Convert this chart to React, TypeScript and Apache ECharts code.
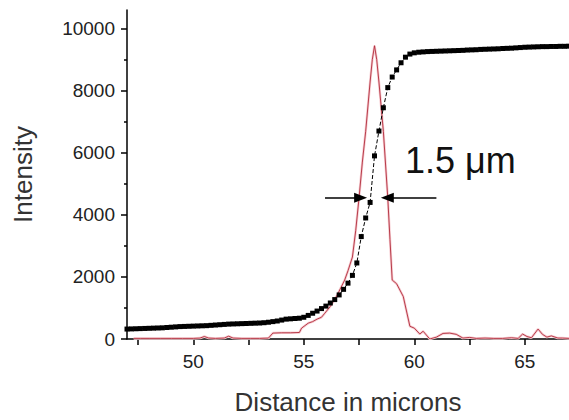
import React, { useEffect, useRef } from "react";
import * as echarts from "echarts";

// Black step-profile series (distance in microns, intensity)
const blackX = [
  47.0, 47.2, 47.4, 47.6, 47.8, 48.0, 48.2, 48.4, 48.6, 48.8, 49.0, 49.2, 49.4, 49.6, 49.8,
  50.0, 50.2, 50.4, 50.6, 50.8, 51.0, 51.2, 51.4, 51.6, 51.8, 52.0, 52.2, 52.4, 52.6, 52.8,
  53.0, 53.2, 53.4, 53.6, 53.8, 54.0, 54.2, 54.4, 54.6, 54.8, 55.0, 55.2, 55.4, 55.6, 55.8,
  56.0, 56.2, 56.4, 56.6, 56.8, 57.0, 57.2, 57.4, 57.6, 57.8, 58.0, 58.2, 58.4, 58.6, 58.8,
  59.0, 59.2, 59.4, 59.6, 59.8, 60.0, 60.2, 60.4, 60.6, 60.8, 61.0, 61.2, 61.4, 61.6, 61.8,
  62.0, 62.2, 62.4, 62.6, 62.8, 63.0, 63.2, 63.4, 63.6, 63.8, 64.0, 64.2, 64.4, 64.6, 64.8,
  65.0, 65.2, 65.4, 65.6, 65.8, 66.0, 66.2, 66.4, 66.6, 66.8, 67.0,
];
const blackY = [
  320, 325, 330, 335, 340, 345, 350, 355, 360, 370, 380, 390, 400, 405, 410,
  415, 420, 425, 430, 440, 450, 460, 470, 480, 485, 490, 495, 500, 505, 510,
  515, 525, 540, 560, 580, 610, 640, 650, 660, 670, 700, 760, 830, 900, 980,
  1060, 1160, 1270, 1420, 1600, 1800, 2050, 2450, 3300, 3900, 4400, 5900, 6700, 7450, 8100,
  8440, 8670, 8900, 9080, 9180, 9220, 9240, 9250, 9260, 9265, 9270, 9275, 9280, 9285, 9290,
  9295, 9300, 9310, 9315, 9320, 9330, 9335, 9340, 9345, 9350, 9360, 9365, 9370, 9380, 9390,
  9400, 9405, 9410, 9415, 9420, 9420, 9425, 9425, 9430, 9430, 9435,
];

// Red peak series
const redX = [
  47.3, 47.6, 48.0, 48.5, 49.0, 49.5, 50.0, 50.3, 50.5, 50.7, 51.0, 51.4, 51.6, 51.8, 52.2,
  52.6, 53.0, 53.4, 53.6, 54.0, 54.4, 54.8, 54.9, 55.2, 55.4, 55.6, 55.8, 55.95, 56.2, 56.5,
  56.85, 57.0, 57.2, 57.35, 57.5, 57.65, 57.8, 58.0, 58.1, 58.2, 58.3, 58.4, 58.6, 58.8, 58.9,
  59.0, 59.2, 59.5, 59.8, 60.0, 60.25, 60.4, 60.7, 61.0, 61.3, 61.6, 61.9, 62.2, 62.5, 62.8,
  63.2, 63.6, 64.0, 64.4, 64.7, 64.9, 65.1, 65.3, 65.6, 65.8, 66.0, 66.2, 66.5, 66.7, 67.0,
];
const redY = [
  20, 20, 20, 20, 20, 20, 20, 30, 80, 30, 20, 30, 90, 30, 20,
  20, 20, 30, 190, 200, 200, 210, 350, 510, 560, 640, 700, 830, 1050, 1400,
  1900, 2200, 2640, 3500, 4550, 5700, 6690, 8280, 9000, 9450, 9000, 8280, 6690, 4550, 3200,
  1900, 1780, 1370, 410, 350, 160, 250, 0, 60, 180, 190, 150, 30, 50, 20,
  30, 20, 20, 40, 20, 160, 80, 40, 320, 150, 60, 100, 30, 30, 20,
];

// Axis ticks
const yMajorTicks = [0, 2000, 4000, 6000, 8000, 10000];
const yMinorTicks = [1000, 3000, 5000, 7000, 9000];
const xTicks = [47.5, 50, 52.5, 55, 57.5, 60, 62.5, 65];
const xLabels = [50, 55, 60, 65];

// FWHM annotation (data coordinates)
const fwhmLevel = 4550;
const leftArrow = [55.96, 57.57];
const rightArrow = [61.0, 58.78];
const fwhmText = "1.5 \u03bcm";

const FONT = "'Liberation Sans', Arial, sans-serif";

export default function App() {
  const ref = useRef<HTMLDivElement>(null);
  useEffect(() => {
    document.body.style.margin = "0";
    if (!ref.current) return;
    const chart = echarts.init(ref.current, undefined, { renderer: "svg" });
    const black = blackX.map((x, i) => [x, blackY[i]]);
    const red = redX.map((x, i) => [x, redY[i]]);
    chart.setOption({
      animation: false,
      backgroundColor: "#ffffff",
      grid: { left: 127, right: -5, top: 10, bottom: 77, containLabel: false },
      xAxis: {
        type: "value",
        min: 47,
        max: 67,
        axisLine: { show: true, onZero: false, lineStyle: { color: "#000", width: 1.5 } },
        axisTick: { show: true, length: 6, customValues: xTicks, lineStyle: { color: "#000", width: 1.5 } },
        axisLabel: {
          customValues: xLabels,
          margin: 13,
          fontSize: 19,
          color: "#222",
          fontFamily: FONT,
          formatter: (v: number) => String(v),
        },
        splitLine: { show: false },
        name: "Distance in microns",
        nameLocation: "middle",
        nameGap: 50,
        nameTextStyle: { fontSize: 26, color: "#333", fontFamily: FONT },
      },
      yAxis: [
        {
          type: "value",
          position: "left",
          min: 0,
          max: 10600,
          axisLine: { show: true, lineStyle: { color: "#000", width: 1.5 } },
          axisTick: { show: true, length: 6, customValues: yMajorTicks, lineStyle: { color: "#000", width: 1.5 } },
          axisLabel: {
            customValues: yMajorTicks,
            margin: 12,
            fontSize: 19,
            color: "#222",
            fontFamily: FONT,
            formatter: (v: number) => String(v),
          },
          splitLine: { show: false },
          name: "Intensity",
          nameLocation: "middle",
          nameGap: 91,
          nameTextStyle: { fontSize: 26, color: "#333", fontFamily: FONT },
        },
        {
          type: "value",
          position: "left",
          min: 0,
          max: 10600,
          axisLine: { show: false },
          axisTick: { show: true, length: 3, customValues: yMinorTicks, lineStyle: { color: "#000", width: 1.5 } },
          axisLabel: { show: false },
          splitLine: { show: false },
        },
      ],
      series: [
        {
          type: "line",
          data: red,
          symbol: "none",
          lineStyle: { color: "#f7cdd2", width: 2.5 },
          silent: true,
          z: 2,
        },
        {
          type: "line",
          data: red,
          symbol: "none",
          lineStyle: { color: "#b02a3a", width: 0.9 },
          silent: true,
          z: 3,
        },
        {
          type: "line",
          data: black,
          symbol: "rect",
          symbolSize: 5,
          itemStyle: { color: "#000" },
          lineStyle: { color: "#000", width: 1, type: "dashed" },
          silent: true,
          z: 4,
          markLine: {
            silent: true,
            symbol: ["none", "triangle"],
            symbolSize: [10, 13],
            label: { show: false },
            lineStyle: { color: "#000", width: 1.5, type: "solid" },
            data: [
              [{ coord: [leftArrow[0], fwhmLevel] }, { coord: [leftArrow[1], fwhmLevel] }],
              [{ coord: [rightArrow[0], fwhmLevel] }, { coord: [rightArrow[1], fwhmLevel] }],
            ],
          },
        },
      ],
      graphic: [
        {
          type: "text",
          x: 405,
          y: 160,
          style: {
            text: fwhmText,
            fontSize: 36,
            fontFamily: FONT,
            fill: "#111",
            verticalAlign: "middle",
            align: "left",
          },
          z: 10,
        },
      ],
    });
    return () => chart.dispose();
  }, []);
  return <div ref={ref} style={{ width: 569, height: 420 }} />;
}
